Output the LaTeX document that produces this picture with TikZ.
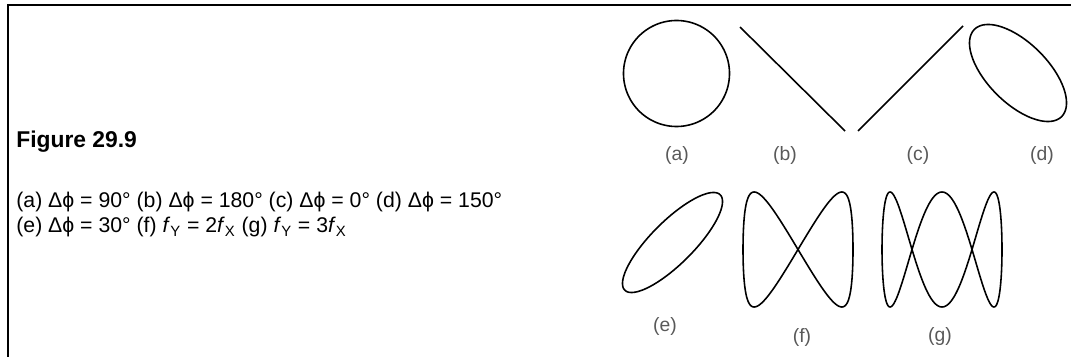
\documentclass[tikz,border=0pt]{standalone}
\usepackage{fontspec}
\setmainfont{Liberation Sans}
\usetikzlibrary{positioning}

% phase ellipse: centre x, centre y, radius, phase difference
\newcommand{\phaseplot}[4]{%
  \draw[curve] plot[domain=0:360, samples=181, variable=\t]
    ({#1+#3*cos(\t)}, {#2-#3*cos(\t-#4)}) -- cycle;}

\begin{document}
\begin{tikzpicture}[x=0.02cm, y=-0.02cm,
    curve/.style={line width=0.9pt, line join=round},
    frame/.style={line width=0.9pt},
    lbl/.style={inner sep=0pt, text=black!65, font=\fontsize{11}{13}\selectfont},
    txt/.style={inner sep=0pt, anchor=base west, font=\fontsize{12.1}{14}\selectfont}
  ]
  \useasboundingbox (0,0) rectangle (1071,357);
  \draw[frame] (8,357) -- (8,5) -- (1071,5);

  \node[txt, font=\fontsize{13}{15}\selectfont\bfseries] (fig) at (16,148) {Figure 29.9};
  \node[txt] (desc1) at (16,208) {(a) Δϕ = 90° (b) Δϕ = 180° (c) Δϕ = 0° (d) Δϕ = 150°};
  \node[txt] (desc2) at (16,233) {(e) Δϕ = 30° (f) \textit{f}\textsubscript{Y} = 2\textit{f}\textsubscript{X} (g) \textit{f}\textsubscript{Y} = 3\textit{f}\textsubscript{X}};

  % top row
  \phaseplot{676.5}{73.5}{53}{90}
  \draw[curve] (740,27) -- (845,131);
  \draw[curve] (858,131) -- (963,26);
  \phaseplot{1018}{73}{48.5}{128}

  % bottom row
  \phaseplot{672.5}{242.5}{50}{35}
  \draw[curve] plot[domain=0:360, samples=241, variable=\t]
    ({798+55*(sin(\t)+0.06*sin(3*\t))/0.94}, {249.5-57.5*sin(2*\t)}) -- cycle;
  \draw[curve] plot[domain=0:360, samples=241, variable=\t]
    ({942+60*sin(\t)}, {249.5-57.5*cos(3*\t)}) -- cycle;

  \node[lbl] (la) at (677,156) {(a)};
  \node[lbl] (lb) at (785,156) {(b)};
  \node[lbl] (lc) at (918,156) {(c)};
  \node[lbl] (ld) at (1042,156) {(d)};
  \node[lbl] (le) at (665,327) {(e)};
  \node[lbl] (lf) at (802,337) {(f)};
  \node[lbl] (lg) at (940,337) {(g)};
\end{tikzpicture}
\end{document}
